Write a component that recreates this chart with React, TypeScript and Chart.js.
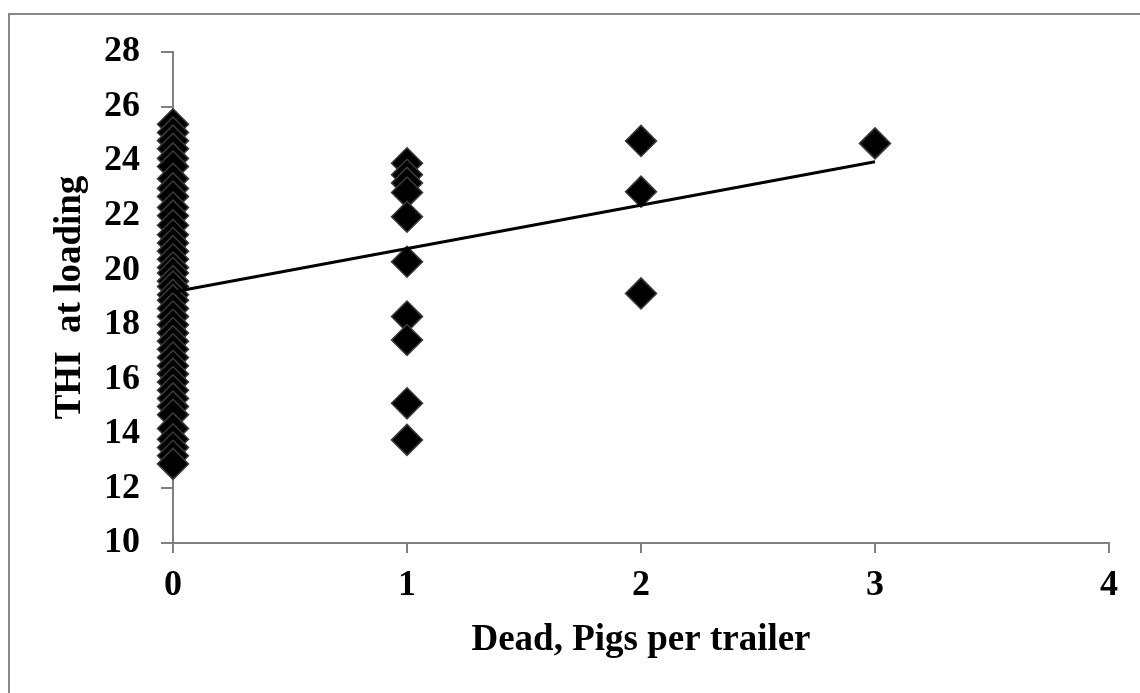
import React, { useEffect, useRef } from "react";
import { Chart, registerables } from "chart.js";

Chart.register(...registerables);

// Dead pigs per trailer (x) vs THI at loading (y)
const DEAD_0_THI = [
  25.35, 25.05, 24.75, 24.45, 24.1, 23.8, 23.35, 23.0, 22.7, 22.3, 22.0,
  21.65, 21.3, 21.0, 20.7, 20.4, 20.1, 19.9, 19.6, 19.4, 19.1, 18.9, 18.6,
  18.3, 18.0, 17.7, 17.4, 17.1, 16.8, 16.5, 16.2, 15.9, 15.6, 15.3, 15.0,
  14.7, 14.2, 13.8, 13.5, 13.2, 12.9,
];
const DEAD_1_THI = [23.92, 23.5, 23.2, 22.85, 21.96, 20.31, 18.3, 17.44, 15.12, 13.78];
const DEAD_2_THI = [24.74, 22.88, 19.15];
const DEAD_3_THI = [24.65];

const TREND_X = [0, 3];
const TREND_Y = [19.2, 23.98];

const X_TITLE = "Dead, Pigs per trailer";
const Y_TITLE = "THI  at loading";
const X_MIN = 0;
const X_MAX = 4;
const Y_MIN = 10;
const Y_MAX = 28;

const FONT_FAMILY = "'Liberation Serif', 'Times New Roman', serif";

export default function App() {
  const canvasRef = useRef<HTMLCanvasElement | null>(null);

  useEffect(() => {
    const canvas = canvasRef.current;
    if (!canvas) return;

    const points = [
      ...DEAD_0_THI.map((y) => ({ x: 0, y })),
      ...DEAD_1_THI.map((y) => ({ x: 1, y })),
      ...DEAD_2_THI.map((y) => ({ x: 2, y })),
      ...DEAD_3_THI.map((y) => ({ x: 3, y })),
    ];
    const trend = TREND_X.map((x, i) => ({ x, y: TREND_Y[i] }));

    const chart = new Chart(canvas, {
      type: "scatter",
      data: {
        datasets: [
          {
            type: "line",
            label: "Trend",
            data: trend,
            borderColor: "#000",
            borderWidth: 3,
            pointRadius: 0,
            fill: false,
            tension: 0,
            clip: false,
          },
          {
            label: "THI",
            data: points,
            pointStyle: "rectRot",
            pointRadius: 15.5,
            pointHoverRadius: 15.5,
            backgroundColor: "#000",
            borderColor: "#3a3a3a",
            borderWidth: 1.5,
            clip: false,
          },
        ],
      },
      options: {
        responsive: false,
        animation: false,
        devicePixelRatio: 1,
        layout: { padding: { left: 0, right: 31, top: 52, bottom: 0 } },
        plugins: {
          legend: { display: false },
          tooltip: { enabled: false },
        },
        scales: {
          x: {
            type: "linear",
            min: X_MIN,
            max: X_MAX,
            afterFit: (scale: any) => {
              scale.height = 150;
            },
            ticks: {
              stepSize: 1,
              color: "#000",
              padding: 11,
              font: { family: FONT_FAMILY, size: 36, weight: "bold" },
            },
            grid: {
              display: true,
              drawOnChartArea: false,
              drawTicks: true,
              tickLength: 10,
              color: "#808080",
              lineWidth: 2,
            },
            border: { display: true, color: "#808080", width: 2 },
            title: {
              display: true,
              text: X_TITLE,
              color: "#000",
              padding: { top: 0, bottom: 30 },
              font: { family: FONT_FAMILY, size: 37, weight: "bold" },
            },
          },
          y: {
            type: "linear",
            min: Y_MIN,
            max: Y_MAX,
            afterFit: (scale: any) => {
              scale.width = 173;
            },
            ticks: {
              stepSize: 2,
              color: "#000",
              padding: 21,
              font: { family: FONT_FAMILY, size: 36, weight: "bold" },
            },
            grid: {
              display: true,
              drawOnChartArea: false,
              drawTicks: true,
              tickLength: 12,
              color: "#808080",
              lineWidth: 2,
            },
            border: { display: true, color: "#808080", width: 2 },
            title: {
              display: true,
              text: Y_TITLE,
              color: "#000",
              padding: { top: 48, bottom: 0 },
              font: { family: FONT_FAMILY, size: 37, weight: "bold" },
            },
          },
        },
      },
    } as any);

    return () => {
      chart.destroy();
    };
  }, []);

  return (
    <div
      style={{
        position: "absolute",
        left: 0,
        top: 0,
        width: 1140,
        height: 693,
        overflow: "hidden",
        background: "#fff",
      }}
    >
      <div
        style={{
          position: "absolute",
          left: 8,
          top: 13,
          width: 1200,
          height: 760,
          borderLeft: "2px solid #888",
          borderTop: "2px solid #888",
        }}
      />
      <canvas
        ref={canvasRef}
        width={1140}
        height={693}
        style={{ position: "absolute", left: 0, top: 0, width: 1140, height: 693 }}
      />
    </div>
  );
}
